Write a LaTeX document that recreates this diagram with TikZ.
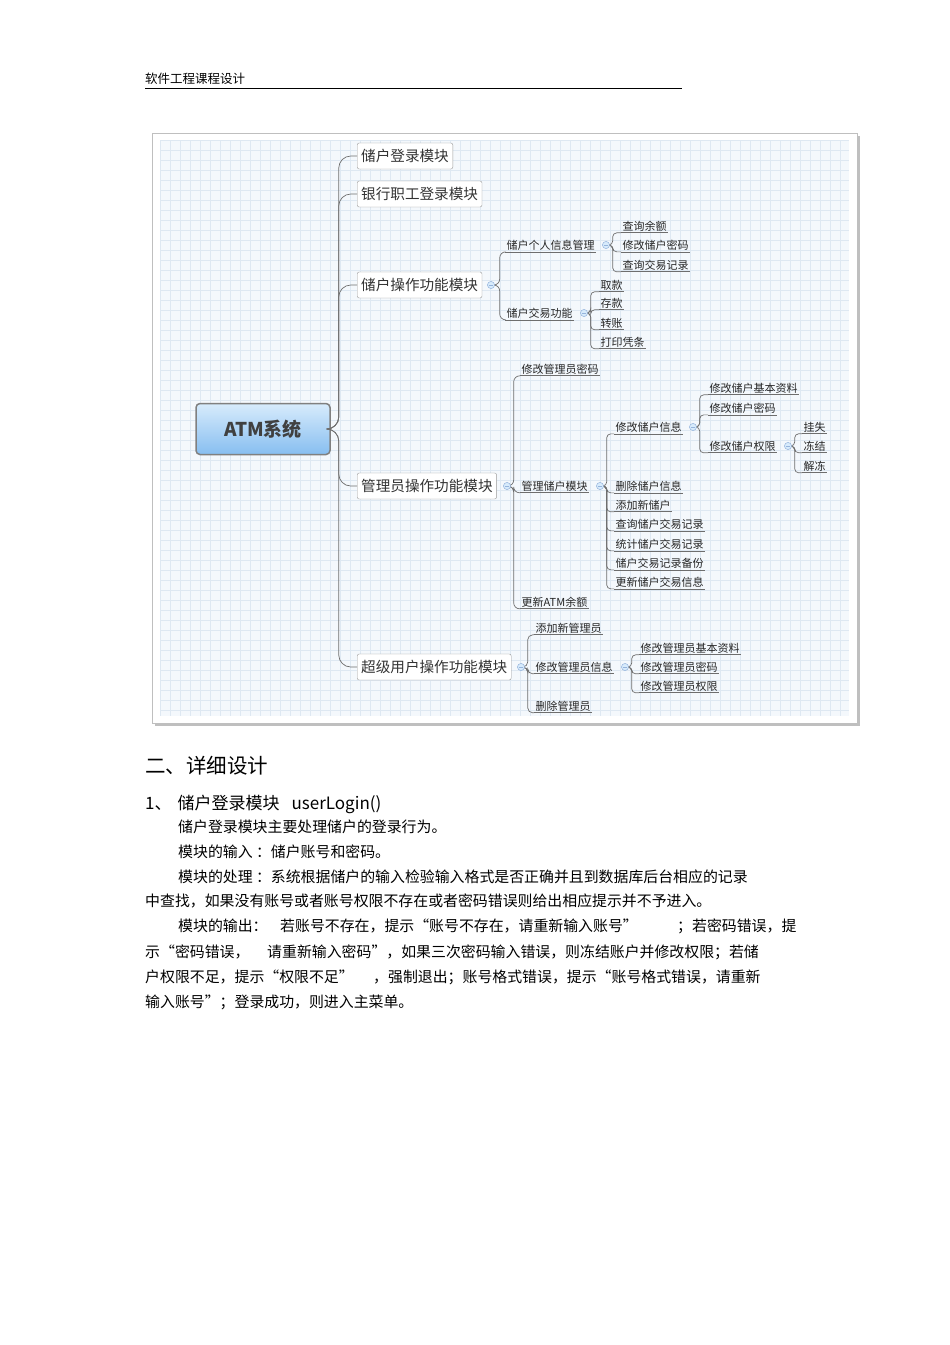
\documentclass[tikz,border=0pt]{standalone}
\usepackage{fontspec}
\setmainfont{Noto Sans CJK SC}
\definecolor{gridc}{RGB}{222,232,242}
\definecolor{bgc}{RGB}{244,248,252}
\definecolor{foldc}{RGB}{150,180,220}
\definecolor{roottop}{RGB}{215,235,252}
\definecolor{rootbot}{RGB}{135,190,240}
\definecolor{linec}{RGB}{110,110,110}
\begin{document}
\begin{tikzpicture}[x=1pt,y=-1pt,
  lone/.style={anchor=west,inner sep=1.5pt,font=\fontsize{11}{13}\selectfont,text=black!85},
  lvone/.style={anchor=west,draw=gray!80,rounded corners=2pt,fill=white,inner xsep=4pt,minimum height=26pt,font=\fontsize{14.6}{16}\selectfont,text=black!80},
  conn/.style={draw=linec,line width=0.7pt,rounded corners=6pt},
  uline/.style={draw=linec,line width=0.7pt},
  fold/.style={circle,draw=foldc,fill=roottop,inner sep=0pt,minimum size=7pt,path picture={\draw[foldc] ([xshift=-2pt]path picture bounding box.center) -- ([xshift=2pt]path picture bounding box.center);}},
  body/.style={anchor=west,inner sep=0pt,font=\fontsize{14.9}{17}\selectfont}]
\useasboundingbox (0,0) rectangle (950,1345);
% header
\node[anchor=west,inner sep=0pt,font=\fontsize{12.5}{14}\selectfont] (hdr) at (145,79) {软件工程课程设计};
\draw[line width=0.6pt] (145,88) -- (682,88);
% frame
\fill[black!25] (155,136) rectangle (860,726);
\fill[white] (152,133) rectangle (857,723);
\fill[bgc] (160,140) rectangle (849,716);
\foreach \gx in {160,170,...,849}{\draw[gridc,line width=0.4pt] (\gx,140) -- (\gx,716);}
\foreach \gy in {140,150,...,716}{\draw[gridc,line width=0.4pt] (160,\gy) -- (849,\gy);}
\draw[gray!50] (152,133) rectangle (857,723);
% root
\node[draw=gray,line width=1.5pt,rounded corners=4pt,top color=roottop,bottom color=rootbot,minimum width=134pt,minimum height=51pt,font=\fontsize{19}{21}\selectfont\bfseries,text=black!75] (root) at (263,429) {ATM系统};
% level 1
\node[lvone] (l1) at (357,156) {储户登录模块};
\node[lvone] (l2) at (357,194) {银行职工登录模块};
\node[lvone] (l3) at (357,285) {储户操作功能模块};
\node[lvone] (l4) at (357,486) {管理员操作功能模块};
\node[lvone] (l5) at (357,667) {超级用户操作功能模块};
\foreach \n in {l1,l2,l3,l4,l5}{\draw[conn,rounded corners=12pt] (root.east) -- ++(8,0) |- (\n.west);}
\newcommand\leaf[4]{\node[lone] (#1) at (#2,#3) {#4};\draw[uline] (#1.south west) -- (#1.south east);}
% 储户操作功能模块
\node[fold] (f3) at (491,285) {};
\leaf{a1}{505}{245}{储户个人信息管理}
\leaf{a2}{505}{313}{储户交易功能}
\foreach \n in {a1,a2}{\draw[conn] (f3.east) -- ++(5,0) |- (\n.south west);}
\node[fold] (fa1) at (606,245) {};
\node[fold] (fa2) at (584,313) {};
\leaf{b1}{621}{226}{查询余额}
\leaf{b2}{621}{245}{修改储户密码}
\leaf{b3}{621}{265}{查询交易记录}
\foreach \n in {b1,b2,b3}{\draw[conn,rounded corners=4pt] (fa1.east) -- ++(3,0) |- (\n.south west);}
\leaf{c1}{599}{285}{取款}
\leaf{c2}{599}{303}{存款}
\leaf{c3}{599}{323}{转账}
\leaf{c4}{599}{342}{打印凭条}
\foreach \n in {c1,c2,c3,c4}{\draw[conn,rounded corners=4pt] (fa2.east) -- ++(3,0) |- (\n.south west);}
% 管理员操作功能模块
\node[fold] (f4) at (507,486) {};
\leaf{d1}{520}{369}{修改管理员密码}
\leaf{d2}{520}{486}{管理储户模块}
\leaf{d3}{520}{602}{更新ATM余额}
\foreach \n in {d1,d2,d3}{\draw[conn] (f4.east) -- ++(3,0) |- (\n.south west);}
\node[fold] (fd2) at (600,486) {};
\leaf{e1}{614}{427}{修改储户信息}
\leaf{e2}{614}{486}{删除储户信息}
\leaf{e3}{614}{505}{添加新储户}
\leaf{e4}{614}{524}{查询储户交易记录}
\leaf{e5}{614}{544}{统计储户交易记录}
\leaf{e6}{614}{563}{储户交易记录备份}
\leaf{e7}{614}{582}{更新储户交易信息}
\foreach \n in {e1,e2,e3,e4,e5,e6,e7}{\draw[conn,rounded corners=4pt] (fd2.east) -- ++(3,0) |- (\n.south west);}
\node[fold] (fe1) at (693,427) {};
\leaf{g1}{708}{388}{修改储户基本资料}
\leaf{g2}{708}{408}{修改储户密码}
\leaf{g3}{708}{446}{修改储户权限}
\foreach \n in {g1,g2,g3}{\draw[conn,rounded corners=4pt] (fe1.east) -- ++(3,0) |- (\n.south west);}
\node[fold] (fg3) at (788,446) {};
\leaf{h1}{802}{427}{挂失}
\leaf{h2}{802}{446}{冻结}
\leaf{h3}{802}{466}{解冻}
\foreach \n in {h1,h2,h3}{\draw[conn,rounded corners=4pt] (fg3.east) -- ++(3,0) |- (\n.south west);}
% 超级用户
\node[fold] (f5) at (521,667) {};
\leaf{k1}{534}{628}{添加新管理员}
\leaf{k2}{534}{667}{修改管理员信息}
\leaf{k3}{534}{706}{删除管理员}
\foreach \n in {k1,k2,k3}{\draw[conn,rounded corners=5pt] (f5.east) -- ++(3,0) |- (\n.south west);}
\node[fold] (fk2) at (625,667) {};
\leaf{m1}{639}{648}{修改管理员基本资料}
\leaf{m2}{639}{667}{修改管理员密码}
\leaf{m3}{639}{686}{修改管理员权限}
\foreach \n in {m1,m2,m3}{\draw[conn,rounded corners=4pt] (fk2.east) -- ++(3,0) |- (\n.south west);}
% fold circles redrawn on top
\foreach \f in {f3,fa1,fa2,f4,fd2,fe1,fg3,f5,fk2}{\node[fold] at (\f) {};}
% text
\node[anchor=west,inner sep=0pt,font=\fontsize{20.5}{22}\selectfont] (h2) at (145,766) {二、详细设计};
\node[anchor=west,inner sep=0pt,font=\fontsize{17}{19}\selectfont] (h3) at (145,804) {1、\hspace{6pt}储户登录模块\hspace{12pt}userLogin()};
\node[body] (p1) at (178,827) {储户登录模块主要处理储户的登录行为。};
\node[body] (p2) at (178,852) {模块的输入\ ：储户账号和密码。};
\node[body] (p3) at (178,877) {模块的处理\ ：系统根据储户的输入检验输入格式是否正确并且到数据库后台相应的记录};
\node[body] (p4) at (145,901) {中查找，如果没有账号或者账号权限不存在或者密码错误则给出相应提示并不予进入。};
\node[body] (p5a) at (178,926) {模块的输出：};
\node[body] (p5b) at (280,926) {若账号不存在，提示“账号不存在，请重新输入账号”};
\node[body] (p5c) at (677,926) {；若密码错误，提};
\node[body] (p6a) at (145,952) {示“密码错误，};
\node[body] (p6b) at (267,952) {请重新输入密码”，如果三次密码输入错误，则冻结账户并修改权限；若储};
\node[body] (p7a) at (145,977) {户权限不足，提示“权限不足”};
\node[body] (p7b) at (373,977) {，强制退出；账号格式错误，提示“账号格式错误，请重新};
\node[body] (p8) at (145,1002) {输入账号”；登录成功，则进入主菜单。};
\end{tikzpicture}
\end{document}
